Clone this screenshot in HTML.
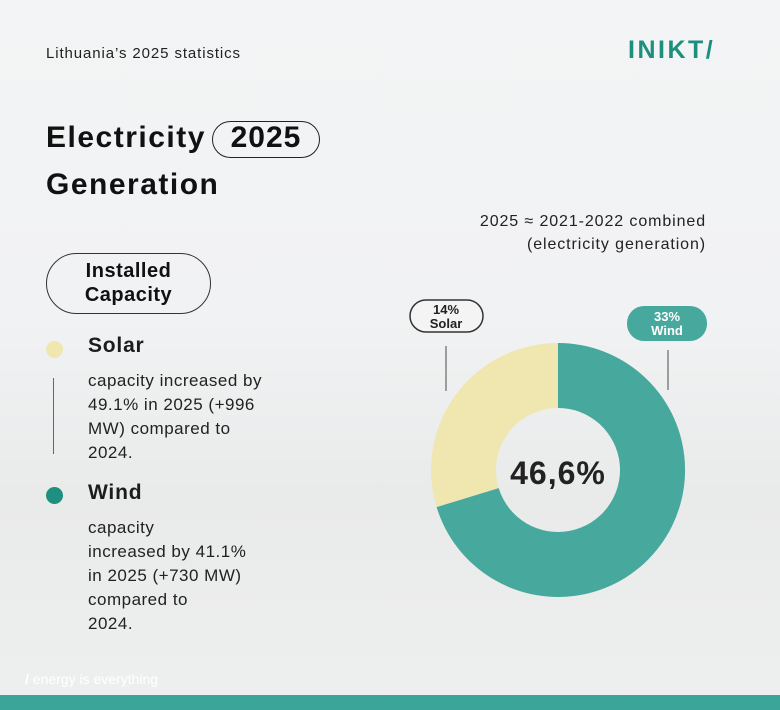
<!DOCTYPE html>
<html><head><meta charset="utf-8"><style>
*{margin:0;padding:0;box-sizing:border-box}
body{width:780px;height:710px;overflow:hidden;position:relative;font-family:"Liberation Sans",sans-serif;color:#1c1c1c;
background:linear-gradient(180deg,#f3f4f5 0%,#f1f2f3 45%,#e9eaea 70%,#eeefef 100%);}
.a{position:absolute;white-space:nowrap}
.pill{position:absolute;border:1.5px solid #333;border-radius:40px;}
</style></head><body>
<div class="a" style="left:46px;top:45px;font-size:15px;color:#222;letter-spacing:0.9px">Lithuania’s 2025 statistics</div>
<div class="a" style="left:628px;top:36px;font-size:25px;font-weight:bold;color:#1e8f7d;letter-spacing:2.5px">INIKT/</div>
<div class="a" style="left:46px;top:121px;font-size:30px;font-weight:bold;color:#111;letter-spacing:1.5px">Electricity</div>
<div class="pill" style="left:212px;top:121px;width:108px;height:37px;border-color:#222"></div>
<div class="a" style="left:212px;top:121px;width:108px;text-align:center;font-size:30px;font-weight:bold;color:#111;letter-spacing:1px">2025</div>
<div class="a" style="left:46px;top:168px;font-size:30px;font-weight:bold;color:#111;letter-spacing:1.5px">Generation</div>
<div class="pill" style="left:46px;top:253px;width:165px;height:61px"></div>
<div class="a" style="left:46px;top:259px;width:165px;text-align:center;font-size:20px;line-height:24px;color:#111;font-weight:bold;letter-spacing:0.5px">Installed<br>Capacity</div>
<div class="a" style="left:46px;top:341px;width:17px;height:17px;border-radius:50%;background:#f0e6b0"></div>
<div class="a" style="left:88px;top:334px;font-size:21px;font-weight:bold;letter-spacing:0.8px">Solar</div>
<div class="a" style="left:53px;top:378px;width:1px;height:76px;background:#666"></div>
<div class="a" style="left:88px;top:369px;font-size:17px;line-height:24px;color:#222;letter-spacing:0.5px">capacity increased by<br>49.1% in 2025 (+996<br>MW) compared to<br>2024.</div>
<div class="a" style="left:46px;top:487px;width:17px;height:17px;border-radius:50%;background:#1f8f80"></div>
<div class="a" style="left:88px;top:481px;font-size:21px;font-weight:bold;letter-spacing:0.8px">Wind</div>
<div class="a" style="left:88px;top:516px;font-size:17px;line-height:24px;color:#222;letter-spacing:0.5px">capacity<br>increased by 41.1%<br>in 2025 (+730 MW)<br>compared to<br>2024.</div>
<div class="a" style="left:440px;top:210px;width:266px;text-align:right;font-size:16px;line-height:23px;color:#222;letter-spacing:0.9px">2025 ≈ 2021-2022 combined<br>(electricity generation)</div>
<svg class="a" style="left:0;top:0" width="780" height="710">
<path d="M558,343 A127,127 0 0 0 436.6,507.1 L498.7,488.1 A62,62 0 0 1 558,408 Z" fill="#f0e6b0"/>
<path d="M558,343 A127,127 0 1 1 436.6,507.1 L498.7,488.1 A62,62 0 1 0 558,408 Z" fill="#47a99d"/>
<line x1="446" y1="346" x2="446" y2="391" stroke="#666" stroke-width="1.2"/>
<line x1="668" y1="350" x2="668" y2="390" stroke="#666" stroke-width="1.2"/>
<rect x="410" y="300" width="73" height="32" rx="16" fill="#f4f4f4" stroke="#333" stroke-width="1.5"/>
<rect x="627" y="306" width="80" height="35" rx="17" fill="#47a99d"/>
<text x="558" y="484" text-anchor="middle" font-family="Liberation Sans" font-weight="bold" font-size="32" letter-spacing="1" fill="#222">46,6%</text>
<text x="446" y="314" text-anchor="middle" font-family="Liberation Sans" font-weight="bold" font-size="13" fill="#222">14%</text>
<text x="446" y="328" text-anchor="middle" font-family="Liberation Sans" font-weight="bold" font-size="13" fill="#222">Solar</text>
<text x="667" y="321" text-anchor="middle" font-family="Liberation Sans" font-weight="bold" font-size="13" fill="#fff">33%</text>
<text x="667" y="335" text-anchor="middle" font-family="Liberation Sans" font-weight="bold" font-size="13" fill="#fff">Wind</text>
</svg>
<div class="a" style="left:25px;top:671px;font-size:14px;color:#fff"><b>/</b> energy is everything</div>
<div class="a" style="left:0;top:695px;width:780px;height:15px;background:#3ba59a"></div>
</body></html>
